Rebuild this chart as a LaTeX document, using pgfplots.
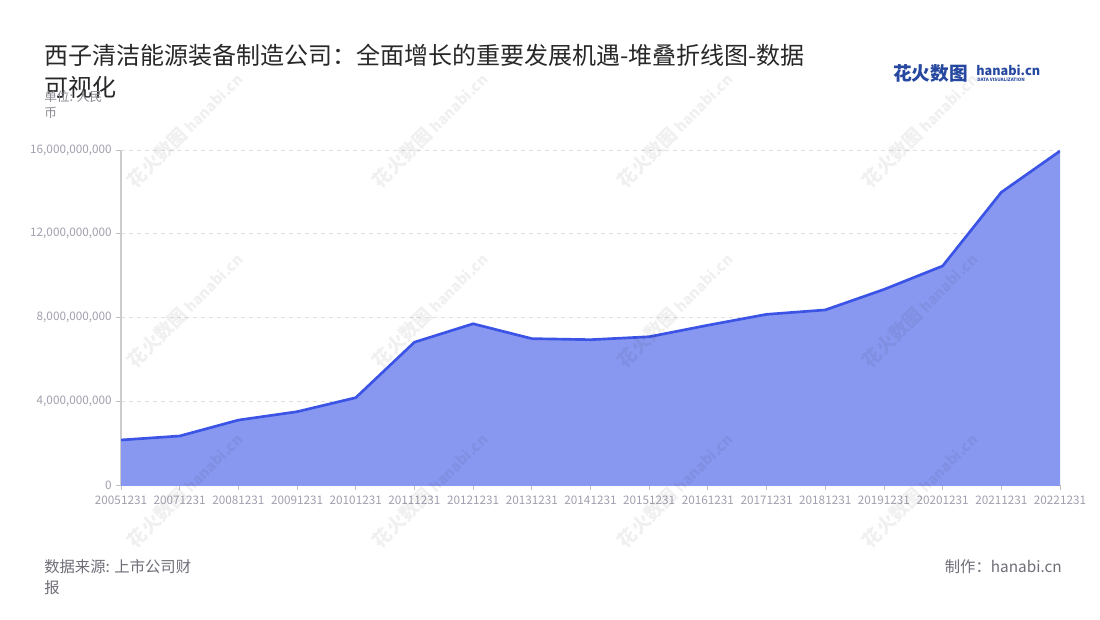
\documentclass[border=0pt]{standalone}
\usepackage{fontspec}
\setmainfont{Noto Sans CJK SC}
\usepackage{pgfplots}
\pgfplotsset{compat=1.18}
\definecolor{areafill}{RGB}{136,152,240}
\definecolor{arealine}{RGB}{59,84,230}
\definecolor{ticktext}{RGB}{160,160,175}
\definecolor{titletext}{RGB}{40,40,40}
\definecolor{subtext}{RGB}{110,110,120}
\definecolor{logoblue}{RGB}{38,72,160}
\begin{document}
\begin{tikzpicture}[x=0.75pt,y=0.75pt]
\useasboundingbox (0,0) rectangle (1100,620);
\fill[white] (0,0) rectangle (1100,620);
\begin{axis}[
  at={(121pt*0.75,135pt*0.75)}, anchor=south west, scale only axis,
  width=704.25pt, height=251.25pt,
  xmin=0, xmax=16, ymin=0, ymax=16e9,
  xtick={0,...,16},
  xticklabels={20051231,20071231,20081231,20091231,20101231,20111231,20121231,20131231,20141231,20151231,20161231,20171231,20181231,20191231,20201231,20211231,20221231},
  ytick={0,4e9,8e9,12e9,16e9},
  yticklabels={0,{4,000,000,000},{8,000,000,000},{12,000,000,000},{16,000,000,000}},
  scaled y ticks=false,
  axis x line*=bottom, axis y line*=left,
  x axis line style={draw=arealine!60, line width=0.8pt},
  y axis line style={draw=gray!40, line width=0.8pt},
  tick align=outside, major tick length=3.5pt,
  xtick style={draw=gray!50, line width=0.6pt},
  ytick style={draw=gray!50, line width=0.6pt},
  ymajorgrids, grid style={dashed, gray!25, line width=0.6pt},
  tick label style={font=\fontsize{8.8}{10}\selectfont, text=ticktext},
  xticklabel style={inner sep=1pt, yshift=-3.5pt},
  /pgf/number format/assume math mode=true,
]
\addplot[fill=areafill, draw=none] coordinates {
(0,2.15e9) (1,2.34e9) (2,3.10e9) (3,3.50e9) (4,4.17e9) (5,6.82e9) (6,7.70e9) (7,6.99e9) (8,6.94e9) (9,7.08e9) (10,7.63e9) (11,8.15e9) (12,8.36e9) (13,9.34e9) (14,10.46e9) (15,13.98e9) (16,15.95e9)
} \closedcycle;
\addplot[arealine, line width=2pt, line join=round] coordinates {
(0,2.15e9) (1,2.34e9) (2,3.10e9) (3,3.50e9) (4,4.17e9) (5,6.82e9) (6,7.70e9) (7,6.99e9) (8,6.94e9) (9,7.08e9) (10,7.63e9) (11,8.15e9) (12,8.36e9) (13,9.34e9) (14,10.46e9) (15,13.98e9) (16,15.95e9)
};
\end{axis}
% watermarks
\foreach \wx in {185,430,675,920}{
  \foreach \wy in {490,310,130}{
    \node[rotate=45, opacity=0.06, text=black, font=\fontsize{14}{15}\selectfont\bfseries] at (\wx,\wy) {花火数图 \fontsize{11}{12}\selectfont hanabi.cn};
  }
}
% title
\node[anchor=west, inner sep=0pt, font=\fontsize{18}{20}\selectfont, text=titletext] at (44,565) {西子清洁能源装备制造公司：全面增长的重要发展机遇-堆叠折线图-数据};
\node[anchor=west, inner sep=0pt, font=\fontsize{18}{20}\selectfont, text=titletext] at (44,533) {可视化};
% unit
\node[anchor=west, inner sep=0pt, font=\fontsize{9.5}{11}\selectfont, text=subtext!80] at (44,523) {单位: 人民};
\node[anchor=west, inner sep=0pt, font=\fontsize{9.5}{11}\selectfont, text=subtext!80] at (44,507) {币};
% logo
\node[anchor=west, inner sep=0pt, font=\fontsize{14}{15}\selectfont\bfseries, text=logoblue] at (893,547) {花火数图};
\node[anchor=west, inner sep=0pt, font=\fontsize{9.5}{11}\selectfont\bfseries, text=logoblue] at (976,550) {hanabi.cn};
\node[anchor=west, inner sep=0pt, font=\fontsize{3.4}{4}\selectfont\bfseries, text=logoblue] at (977,540) {DATA VISUALIZATION};
% footer
\node[anchor=west, inner sep=0pt, font=\fontsize{11.5}{13}\selectfont, text=subtext] at (44,53) {数据来源: 上市公司财};
\node[anchor=west, inner sep=0pt, font=\fontsize{11.5}{13}\selectfont, text=subtext] at (44,32) {报};
\node[anchor=east, inner sep=0pt, font=\fontsize{11.5}{13}\selectfont, text=subtext] at (1062,53) {制作：hanabi.cn};
\end{tikzpicture}
\end{document}
